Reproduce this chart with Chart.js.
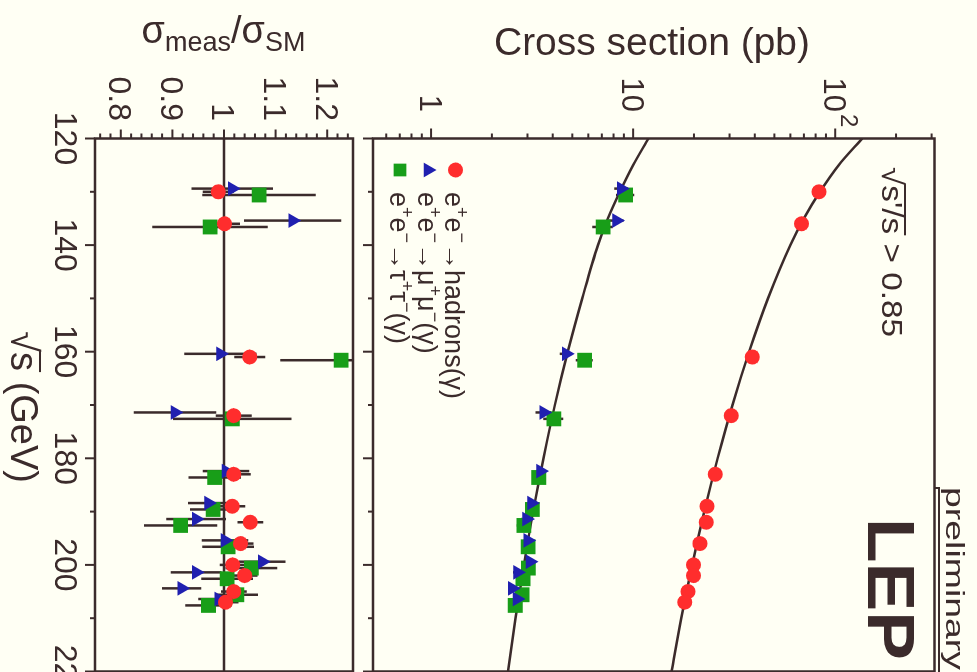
<!DOCTYPE html>
<html><head><meta charset="utf-8">
<script src="https://cdn.jsdelivr.net/npm/chart.js@4/dist/chart.umd.min.js"></script>
<style>
html,body{margin:0;padding:0;overflow:hidden;background:#fffff4;}
#outer{position:absolute;left:0;top:0;width:977px;height:672px;overflow:hidden;background:#fffff4;}
#rot{position:absolute;left:0;top:0;width:720px;height:977px;transform-origin:0 0;transform:translate(977px,0) rotate(90deg);}
#rot canvas{position:absolute;left:0;top:0;}
</style></head><body>
<div id="outer"><div id="rot">
<canvas id="c1" width="720" height="977"></canvas>
<canvas id="c2" width="720" height="977"></canvas>
</div></div>
<script>
// ---------------- data ----------------
const energies = [130, 136, 161, 172, 183, 189, 192, 196, 200, 202, 205, 207];
const hadronXsec   = [83.1, 68.1, 38.9, 30.6, 25.5, 23.2, 23.0, 21.4, 19.9, 19.9, 18.7, 18.0];
const hadronRatio  = [0.989, 1.001, 1.050, 1.019, 1.019, 1.016, 1.051, 1.032, 1.017, 1.040, 1.019, 1.003];
const hadronErr    = [0.030, 0.030, 0.030, 0.035, 0.033, 0.025, 0.025, 0.025, 0.025, 0.025, 0.025, 0.025];
const mumuXsec     = [8.74, 8.27, 4.66, 3.61, 3.48, 3.14, 2.97, 3.01, 3.09, 2.68, 2.52, 2.66];
const mumuRatio    = [1.016, 1.133, 0.993, 0.905, 1.004, 0.970, 0.946, 1.002, 1.074, 0.946, 0.918, 0.990];
const mumuErr      = [0.079, 0.094, 0.070, 0.080, 0.045, 0.040, 0.058, 0.045, 0.045, 0.049, 0.038, 0.040];
const tautauXsec   = [9.18, 7.10, 5.75, 4.05, 3.41, 3.17, 2.88, 3.02, 3.03, 2.85, 2.82, 2.61];
const tautauRatio  = [1.068, 0.973, 1.227, 1.016, 0.982, 0.979, 0.916, 1.008, 1.053, 1.006, 1.025, 0.970];
const tautauErr    = [0.110, 0.112, 0.118, 0.115, 0.051, 0.045, 0.071, 0.050, 0.050, 0.050, 0.041, 0.045];
const seriesShift  = {hadrons: 0, mumu: -0.6, tautau: 0.6};   // small energy displacement used in the plot

const curveEnergy  = [120, 125, 130, 135, 140, 150, 160, 170, 180, 190, 200, 210, 220];
const hadronSM     = [136, 104, 84, 70, 60, 46.5, 37.5, 31, 26.2, 22.5, 19.6, 17.3, 15.5];
const leptonSM     = [11.9, 10.0, 8.6, 7.5, 6.7, 5.6, 4.75, 4.1, 3.6, 3.2, 2.88, 2.62, 2.4];

const sqrtsTicks   = [120, 140, 160, 180, 200, 220];
const ratioTicks   = [0.8, 0.9, 1, 1.1, 1.2];
const ratioLabels  = ['0.8', '0.9', '1', '1.1', '1.2'];
const xsecTicks    = [1, 10, 100];
const xsecLabels   = [['1'], ['10'], ['10', '2']];
const legendLabels = [
  [['e'],['+',1],['e'],['\u2212',1],['\u2192hadrons(\u03b3)']],
  [['e'],['+',1],['e'],['\u2212',1],['\u2192\u03bc'],['+',1],['\u03bc'],['\u2212',1],['(\u03b3)']],
  [['e'],['+',1],['e'],['\u2212',1],['\u2192\u03c4'],['+',1],['\u03c4'],['\u2212',1],['(\u03b3)']]
];

// ---------------- style ----------------
const INK = '#3b2b2b';
const RED = 'rgb(255,45,45)', BLUE = 'rgb(32,32,176)', GREEN = 'rgb(24,158,24)';
const FAM = '"Liberation Sans", Arial, Helvetica, sans-serif';
const F = (px, bold) => (bold ? 'bold ' : '') + px + 'px ' + FAM;
const CW = 720, CH = 977;

function pts(xs, ys, shift) { return xs.map((e, i) => ({x: e + shift, y: ys[i]})); }
function line(ctx, x1, y1, x2, y2) { ctx.beginPath(); ctx.moveTo(x1, y1); ctx.lineTo(x2, y2); ctx.stroke(); }

function drawSegs(ctx, segs, x, y, opts) {
  opts = opts || {};
  ctx.save();
  ctx.textAlign = 'left'; ctx.textBaseline = 'alphabetic';
  let w = 0; const ws = [];
  for (const s of segs) { ctx.font = s.font; const m = ctx.measureText(s.t).width; ws.push(m); w += m; }
  const sc = opts.width ? opts.width / w : 1;
  const Wd = w * sc;
  const x0 = opts.align === 'center' ? x - Wd / 2 : opts.align === 'right' ? x - Wd : x;
  ctx.translate(x0, y); ctx.scale(sc, 1);
  let cx = 0;
  segs.forEach((s, i) => {
    ctx.font = s.font;
    ctx.fillText(s.t, cx, s.dy || 0);
    if (s.over !== undefined) { ctx.lineWidth = 2; line(ctx, cx - 1, s.over, cx + ws[i] + 1, s.over); }
    cx += ws[i];
  });
  ctx.restore();
}

const errorBars = {
  id: 'errorBars',
  beforeDatasetsDraw(chart) {
    const {ctx, chartArea: a, scales: {x, y}} = chart;
    ctx.save();
    ctx.beginPath(); ctx.rect(a.left, a.top, a.right - a.left, a.bottom - a.top); ctx.clip();
    ctx.strokeStyle = INK;
    if (chart.options.refLine !== undefined) {
      ctx.lineWidth = 2.5;
      const py = y.getPixelForValue(chart.options.refLine);
      line(ctx, a.left, py, a.right, py);
    }
    ctx.lineWidth = 2.5;
    chart.data.datasets.forEach(ds => {
      if (!ds.errors) return;
      ds.data.forEach((p, i) => {
        const px = x.getPixelForValue(p.x);
        line(ctx, px, y.getPixelForValue(p.y - ds.errors[i]), px, y.getPixelForValue(p.y + ds.errors[i]));
      });
    });
    ctx.restore();
  }
};

function sqrtsTickMarks(ctx, a, x) {
  ctx.lineWidth = 2;
  for (let e = 120; e <= 220; e += 10) {
    const px = x.getPixelForValue(e);
    line(ctx, px, a.bottom, px, a.bottom + (e % 20 === 0 ? 10 : 5));
  }
}

const topDecor = {
  id: 'topDecor',
  afterDraw(chart) {
    const {ctx, chartArea: a, scales: {x, y}} = chart;
    ctx.save();
    ctx.strokeStyle = INK; ctx.fillStyle = INK;
    ctx.lineWidth = 2.5;
    ctx.strokeRect(a.left, a.top, a.right - a.left, a.bottom - a.top);
    sqrtsTickMarks(ctx, a, x);
    for (let d = -1; d <= 2; d++) for (let m = 1; m <= 9; m++) {
      const v = m * Math.pow(10, d);
      if (v < y.min || v > y.max) continue;
      const py = y.getPixelForValue(v);
      line(ctx, a.left, py, a.left - (m === 1 ? 10 : 5), py);
    }
    // log tick labels
    xsecTicks.forEach((v, i) => {
      const py = y.getPixelForValue(v);
      const lab = xsecLabels[i];
      drawSegs(ctx, [{t: lab[0], font: F(31)}], 112, py + 11, {align: 'right'});
      if (lab[1]) drawSegs(ctx, [{t: lab[1], font: F(24)}], 114, py - 6);
    });
    // axis title
    ctx.save(); ctx.translate(55, 325); ctx.rotate(-Math.PI / 2);
    drawSegs(ctx, [{t: 'Cross section (pb)', font: F(39)}], 0, 0, {align: 'center', width: 316});
    ctx.restore();
    // legend
    const cols = [RED, BLUE, GREEN];
    const styles = ['circle', 'triangle', 'rect'];
    const radii = [7.5, 8.5, 9];
    const rows = [521.5, 549, 577];
    legendLabels.forEach((parts, i) => {
      ctx.fillStyle = cols[i];
      Chart.helpers.drawPoint(ctx, {pointStyle: styles[i], radius: radii[i], rotation: 0, borderWidth: 0}, 170, rows[i]);
      ctx.fillStyle = INK;
      const segs = parts.map(p => p[1] ? {t: p[0], font: F(18), dy: -11} : {t: p[0], font: F(27)});
      drawSegs(ctx, segs, 192, rows[i] + 10);
    });
    // cut label
    drawSegs(ctx, [{t: '\u221a', font: F(30)}, {t: "s'/s", font: F(30), over: -23}, {t: ' > 0.85', font: F(30)}], 167, 95, {width: 170});
    // experiment label
    drawSegs(ctx, [{t: 'LEP', font: F(66, true)}], 518, 109, {width: 142});
    drawSegs(ctx, [{t: 'preliminary', font: F(26)}], 487, 31, {width: 183});
    ctx.lineWidth = 2;
    ctx.beginPath(); ctx.moveTo(488, a.top); ctx.lineTo(488, 38); ctx.lineTo(CW, 38); ctx.stroke();
    ctx.restore();
  }
};

const ratioDecor = {
  id: 'ratioDecor',
  afterDraw(chart) {
    const {ctx, chartArea: a, scales: {x, y}} = chart;
    ctx.save();
    ctx.strokeStyle = INK; ctx.fillStyle = INK;
    ctx.lineWidth = 2.5;
    ctx.strokeRect(a.left, a.top, a.right - a.left, a.bottom - a.top);
    sqrtsTickMarks(ctx, a, x);
    for (let k = 38; k <= 62; k++) {
      const v = k / 50;
      if (v < y.min || v > y.max) continue;
      const py = y.getPixelForValue(v);
      line(ctx, a.left, py, a.left - (k % 5 === 0 ? 9 : 5), py);
    }
    ratioTicks.forEach((v, i) => {
      drawSegs(ctx, [{t: ratioLabels[i], font: F(32)}], 121, y.getPixelForValue(v) + 11.5, {align: 'right'});
    });
    sqrtsTicks.forEach(e => {
      drawSegs(ctx, [{t: String(e), font: F(32)}], x.getPixelForValue(e), 922, {align: 'center'});
    });
    // titles
    ctx.save(); ctx.translate(43, 753.5); ctx.rotate(-Math.PI / 2);
    drawSegs(ctx, [{t: '\u03c3', font: F(38)}, {t: 'meas', font: F(27), dy: 8}, {t: '/\u03c3', font: F(38)}, {t: 'SM', font: F(27), dy: 8}], 0, 0, {align: 'center'});
    ctx.restore();
    drawSegs(ctx, [{t: '\u221a', font: F(38)}, {t: 's', font: F(38), over: -29}, {t: ' (GeV)', font: F(38)}], 483, 966, {align: 'right'});
    ctx.restore();
  }
};

function scatterSet(label, data, style, radius, color, errors) {
  return {label, data, errors, pointStyle: style, pointRadius: radius, backgroundColor: color,
          borderColor: color, borderWidth: 0, showLine: false};
}

const common = {
  responsive: false, animation: false, devicePixelRatio: 1, events: [],
  plugins: {legend: {display: false}, tooltip: {enabled: false}}
};

// top panel: cross sections
new Chart(document.getElementById('c1'), {
  type: 'scatter',
  data: {datasets: [
    scatterSet('e+e- -> hadrons', pts(energies, hadronXsec, seriesShift.hadrons), 'circle', 7.5, RED,
               hadronXsec.map((v, i) => v * hadronErr[i] / hadronRatio[i])),
    scatterSet('e+e- -> mu mu', pts(energies, mumuXsec, seriesShift.mumu), 'triangle', 8.5, BLUE,
               mumuXsec.map((v, i) => v * mumuErr[i] / mumuRatio[i])),
    scatterSet('e+e- -> tau tau', pts(energies, tautauXsec, seriesShift.tautau), 'rect', 10.5, GREEN,
               tautauXsec.map((v, i) => v * tautauErr[i] / tautauRatio[i])),
    {label: 'SM hadrons', data: pts(curveEnergy, hadronSM, 0), showLine: true, pointRadius: 0,
     borderColor: INK, borderWidth: 2.5, cubicInterpolationMode: 'monotone'},
    {label: 'SM leptons', data: pts(curveEnergy, leptonSM, 0), showLine: true, pointRadius: 0,
     borderColor: INK, borderWidth: 2.5, cubicInterpolationMode: 'monotone'}
  ]},
  options: Object.assign({}, common, {
    layout: {padding: {left: 138.5, right: CW - 671.5, top: 42.5, bottom: CH - 604}},
    scales: {
      x: {type: 'linear', min: 120, max: 220, display: false, bounds: 'data'},
      y: {type: 'logarithmic', min: 0.516, max: 310, display: false, bounds: 'data'}
    }
  }),
  plugins: [errorBars, topDecor]
});

// bottom panel: ratio to SM
new Chart(document.getElementById('c2'), {
  type: 'scatter',
  data: {datasets: [
    scatterSet('hadrons', pts(energies, hadronRatio, seriesShift.hadrons), 'circle', 7.5, RED, hadronErr),
    scatterSet('mumu', pts(energies, mumuRatio, seriesShift.mumu), 'triangle', 8.5, BLUE, mumuErr),
    scatterSet('tautau', pts(energies, tautauRatio, seriesShift.tautau), 'rect', 10.5, GREEN, tautauErr)
  ]},
  options: Object.assign({}, common, {
    refLine: 1,
    layout: {padding: {left: 138.5, right: CW - 671.5, top: 624, bottom: CH - 882}},
    scales: {
      x: {type: 'linear', min: 120, max: 220, display: false, bounds: 'data'},
      y: {type: 'linear', min: 0.75, max: 1.25, display: false, bounds: 'data'}
    }
  }),
  plugins: [errorBars, ratioDecor]
});
</script>
</body></html>
